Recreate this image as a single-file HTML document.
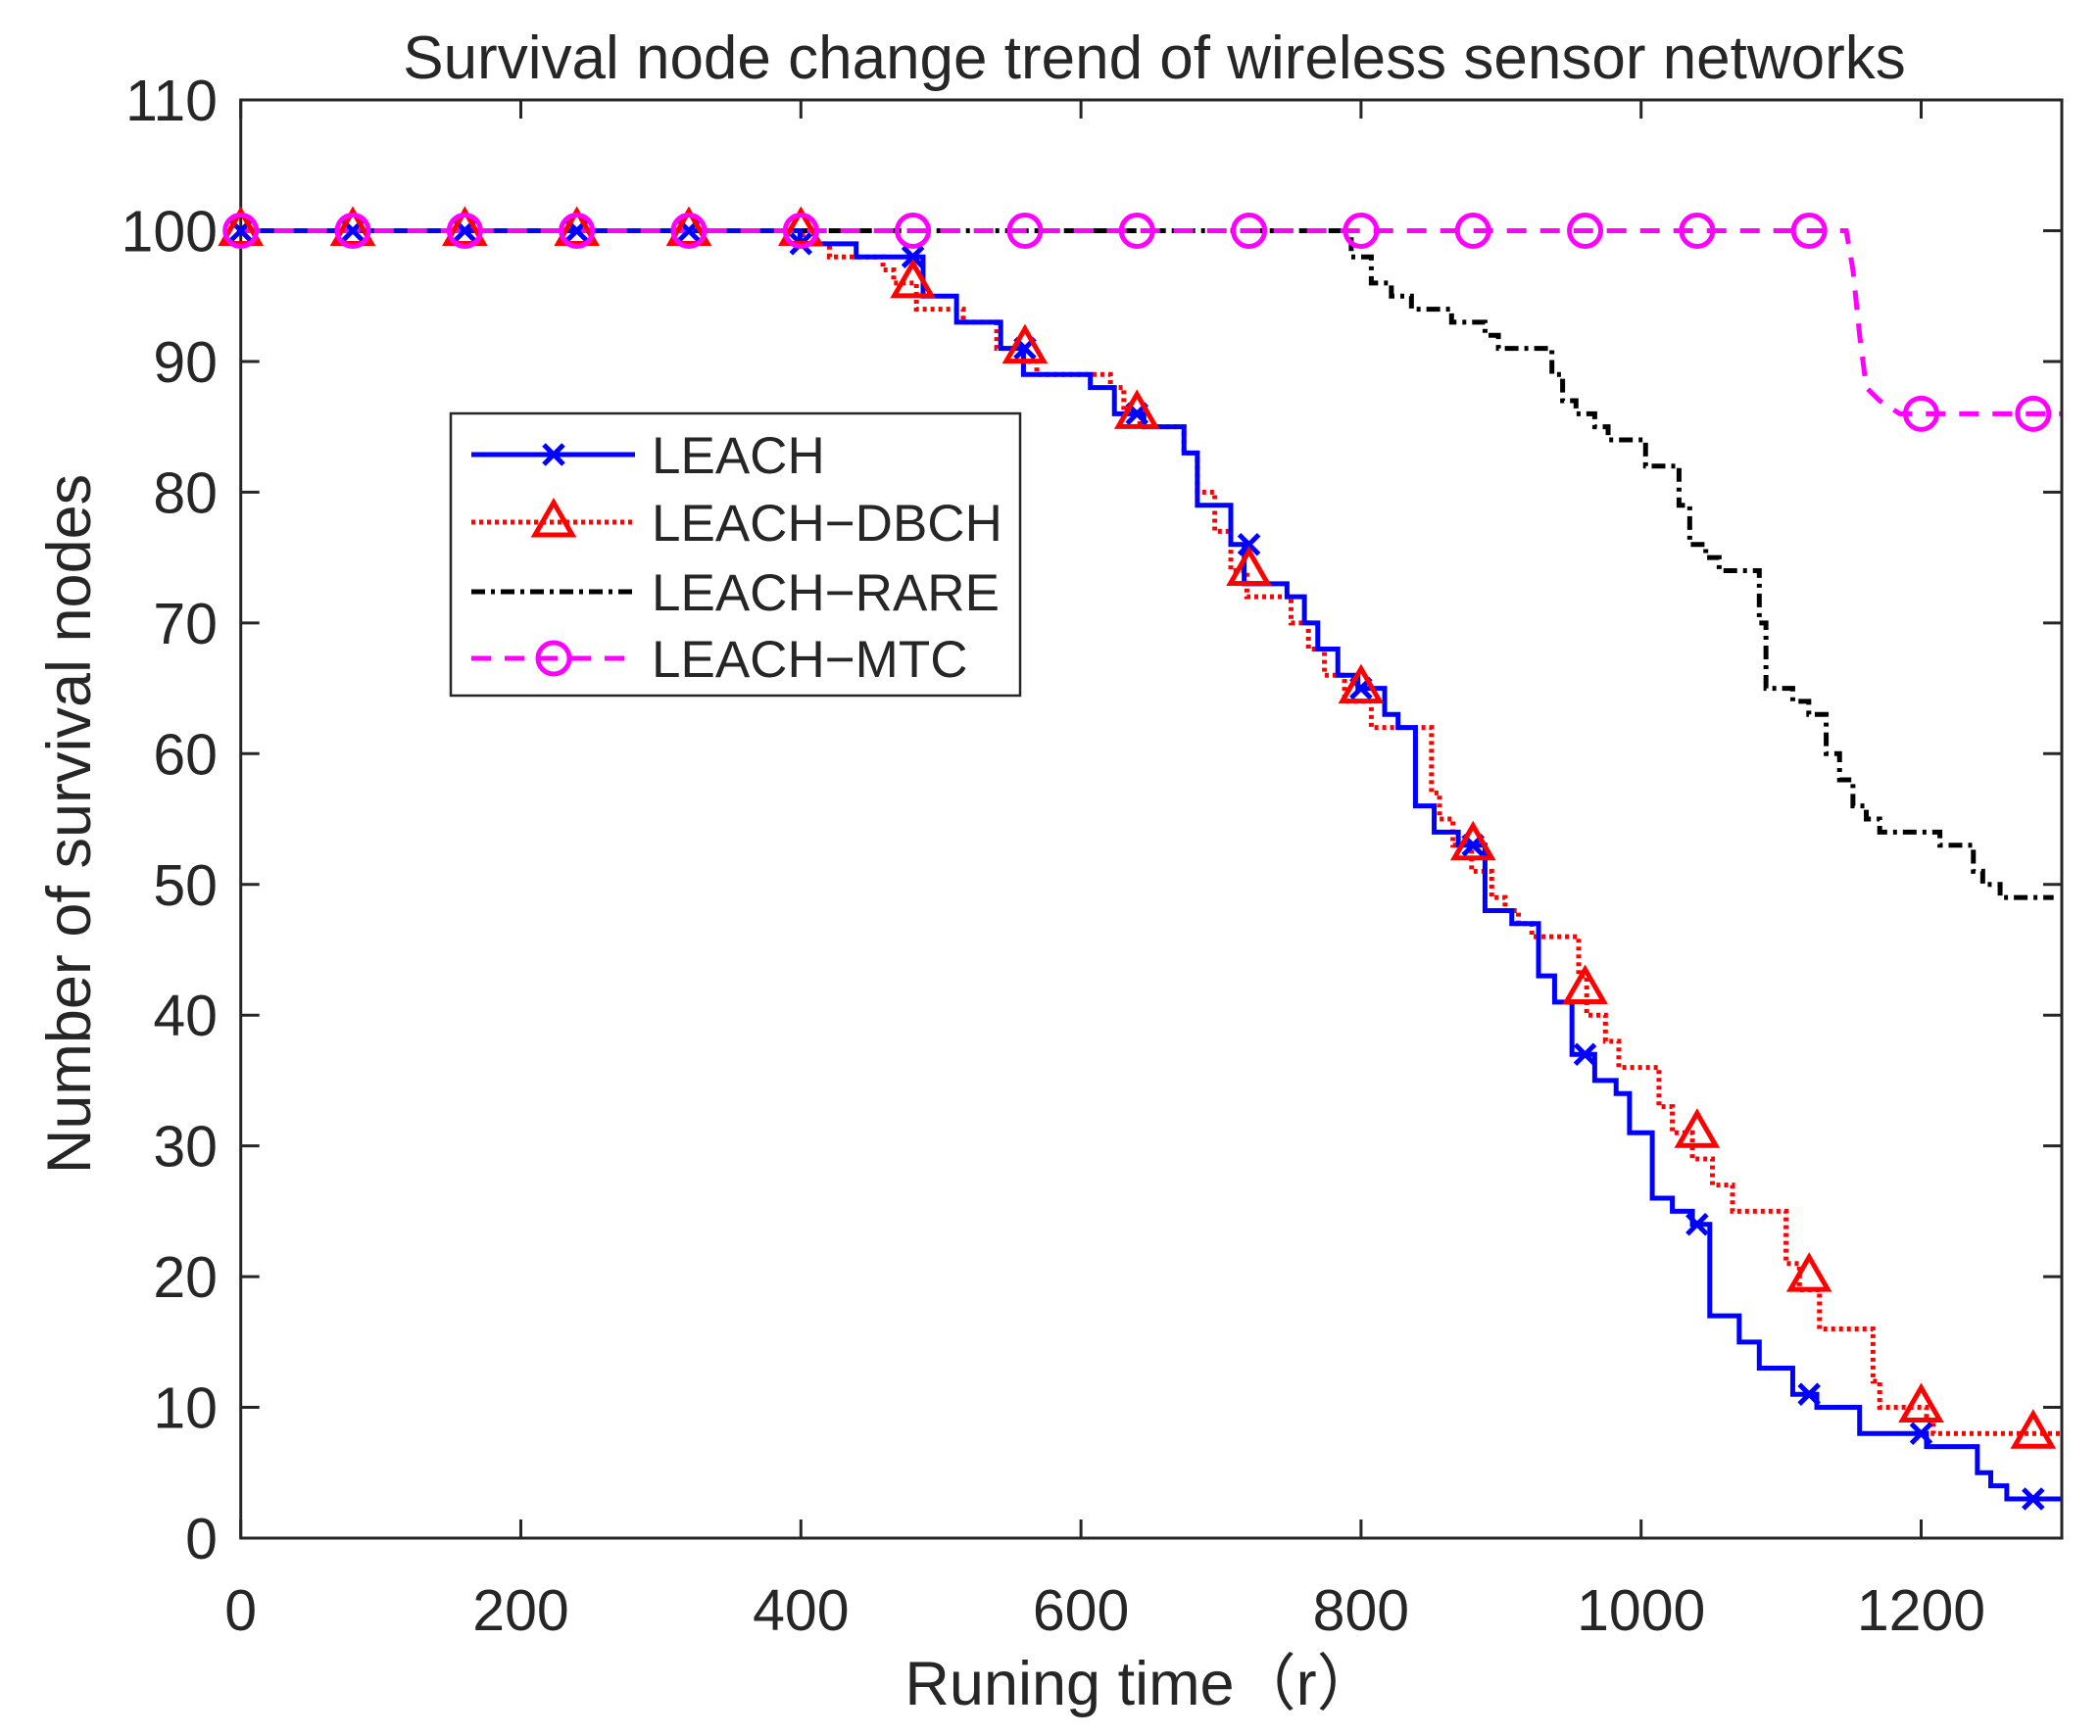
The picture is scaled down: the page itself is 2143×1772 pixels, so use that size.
<!DOCTYPE html>
<html><head><meta charset="utf-8"><style>
html,body{margin:0;padding:0;background:#fff;}
svg{display:block;}
text{font-family:"Liberation Sans","Noto Sans CJK SC",sans-serif;fill:#262626;}
</style></head><body>
<svg id="s" width="2143" height="1772" viewBox="0 0 2143 1772" xmlns="http://www.w3.org/2000/svg">
<text x="1178" y="80" font-size="62" text-anchor="middle" fill="#000">Survival node change trend of wireless sensor networks</text>
<text transform="translate(92,841) rotate(-90)" font-size="63" text-anchor="middle">Number of survival nodes</text>
<text x="1165" y="1740" font-size="63" text-anchor="middle">Runing time（r）</text>
<g id="ax"></g>
<g id="series"></g>
<g id="legend"></g>
</svg>
<script>
var NS="http://www.w3.org/2000/svg";
function el(tag,attrs,parent,txt){var e=document.createElementNS(NS,tag);for(var k in attrs)e.setAttribute(k,attrs[k]);if(txt!==undefined)e.textContent=txt;parent.appendChild(e);return e;}
var L=245.7,R=2104,T=102,B=1570;
function X(d){return L+d*1.429;}
function Y(v){return B-v*13.345;}
function DX(d){return L+(d-180)*1.3653;}
var ax=document.getElementById('ax');
el('rect',{x:L,y:T,width:R-L,height:B-T,fill:'none',stroke:'#262626','stroke-width':3},ax);
for(var v=0;v<=110;v+=10){var y=Y(v);
 el('line',{x1:L,y1:y,x2:L+19,y2:y,stroke:'#262626','stroke-width':3},ax);
 el('line',{x1:R,y1:y,x2:R-19,y2:y,stroke:'#262626','stroke-width':3},ax);
 el('text',{x:222,y:y+21,'font-size':59,'text-anchor':'end'},ax,String(v));}
for(var d=0;d<=1200;d+=200){var x=X(d);
 el('line',{x1:x,y1:B,x2:x,y2:B-19,stroke:'#262626','stroke-width':3},ax);
 el('line',{x1:x,y1:T,x2:x,y2:T+19,stroke:'#262626','stroke-width':3},ax);
 el('text',{x:x,y:1664,'font-size':59,'text-anchor':'middle'},ax,String(d));}
function steps(pts){var s=[];for(var i=0;i<pts.length;i++){var p=pts[i];if(i>0){s.push(DX(p[0])+','+Y(pts[i-1][1]));}s.push(DX(p[0])+','+Y(p[1]));}return s.join(' ');}
var leach=[[180,100],[598,99],[640,98],[690,95],[715,93],[748,91],[765,89],[815,88],[833,86],[855,85],[885,83],[895,79],[920,76],[930,73],[962,72],[975,70],[985,68],[1000,66],[1015,65],[1035,63],[1045,62],[1058,56],[1072,54],[1090,53],[1110,48],[1130,47],[1150,43],[1162,41],[1175,37],[1192,35],[1208,34],[1218,31],[1235,26],[1250,25],[1265,24],[1278,17],[1300,15],[1315,13],[1340,11],[1358,10],[1390,8],[1440,7],[1478,5],[1488,4],[1500,3],[1540,3]];
var dbch=[[180,100],[600,99],[620,98],[660,97],[668,96],[685,94],[720,93],[745,91],[765,90],[775,89],[830,88],[840,86],[852,85],[885,83],[895,80],[908,77],[920,74],[932,72],[965,70],[978,68],[990,66],[1005,64],[1025,62],[1070,57],[1076,55],[1086,53],[1100,51],[1115,49],[1125,48],[1135,47],[1145,46],[1180,43],[1186,40],[1200,38],[1210,36],[1240,33],[1250,31],[1265,29],[1280,27],[1295,25],[1335,21],[1345,19],[1360,16],[1400,12],[1405,10],[1440,9],[1445,8],[1540,8]];
var rare=[[180,100],[1010,98],[1025,96],[1040,95],[1055,94],[1085,93],[1110,92],[1120,91],[1160,89],[1168,87],[1178,86],[1192,85],[1202,84],[1230,82],[1255,79],[1263,76],[1275,75],[1285,74],[1315,70],[1320,65],[1340,64],[1352,63],[1365,60],[1375,58],[1385,56],[1395,55],[1405,54],[1450,53],[1475,51],[1482,50],[1495,49],[1535,49]];
var g=document.getElementById('series');
el('polyline',{points:steps(rare),fill:'none',stroke:'#000','stroke-width':5,'stroke-dasharray':'14 6 4 6'},g);
el('polyline',{points:steps(dbch),fill:'none',stroke:'#ff0000','stroke-width':5,'stroke-dasharray':'4 4'},g);
el('polyline',{points:steps(leach),fill:'none',stroke:'#0000ff','stroke-width':5},g);
var mtcPts=[[180,100],[1380,100],[1385,97],[1390,92],[1395,88],[1405,87],[1420,86],[1540,86]];
el('polyline',{points:mtcPts.map(function(p){return DX(p[0])+','+Y(p[1]);}).join(' '),fill:'none',stroke:'#ff00ff','stroke-width':5,'stroke-dasharray':'20 14'},g);
var xs=[0,80,160,240,320,400,480,560,640,720,800,880,960,1040,1120,1200,1280];
var lv=[100,100,100,100,100,99,98,91,86,76,65,53,37,24,11,8,3];
var dv=[100,100,100,100,100,100,96,91,86,74,65,53,42,31,20,10,8];
var mv=[100,100,100,100,100,100,100,100,100,100,100,100,100,100,100,86,86];
function tri(cx,cy,p){el('polygon',{points:(cx)+','+(cy-20)+' '+(cx-19)+','+(cy+13)+' '+(cx+19)+','+(cy+13),fill:'none',stroke:'#ff0000','stroke-width':5},p);}
function cross(cx,cy,p){el('path',{d:'M'+(cx-10)+' '+(cy-10)+'L'+(cx+10)+' '+(cy+10)+'M'+(cx+10)+' '+(cy-10)+'L'+(cx-10)+' '+(cy+10),stroke:'#0000ff','stroke-width':5},p);}
function circ(cx,cy,p){el('circle',{cx:cx,cy:cy,r:16,fill:'none',stroke:'#ff00ff','stroke-width':5},p);}
for(var i=0;i<xs.length;i++){var x=X(xs[i]);cross(x,Y(lv[i]),g);tri(x,Y(dv[i]),g);circ(x,Y(mv[i]),g);}
var lg=document.getElementById('legend');
el('rect',{x:460,y:422,width:581,height:288,fill:'#fff',stroke:'#262626','stroke-width':2.5},lg);
var rows=[464,533,604,672],names=['LEACH','LEACH\u2212DBCH','LEACH\u2212RARE','LEACH\u2212MTC'];
el('line',{x1:481,y1:rows[0],x2:648,y2:rows[0],stroke:'#0000ff','stroke-width':5},lg);cross(565,rows[0],lg);
el('line',{x1:481,y1:rows[1],x2:648,y2:rows[1],stroke:'#ff0000','stroke-width':5,'stroke-dasharray':'4 4'},lg);tri(565,rows[1],lg);
el('line',{x1:481,y1:rows[2],x2:648,y2:rows[2],stroke:'#000','stroke-width':5,'stroke-dasharray':'14 6 4 6'},lg);
el('line',{x1:481,y1:rows[3],x2:648,y2:rows[3],stroke:'#ff00ff','stroke-width':5,'stroke-dasharray':'20 14'},lg);circ(565,rows[3],lg);
for(var i=0;i<4;i++)el('text',{x:665,y:rows[i]+19,'font-size':53,fill:'#000'},lg,names[i]);
</script>
</body></html>
